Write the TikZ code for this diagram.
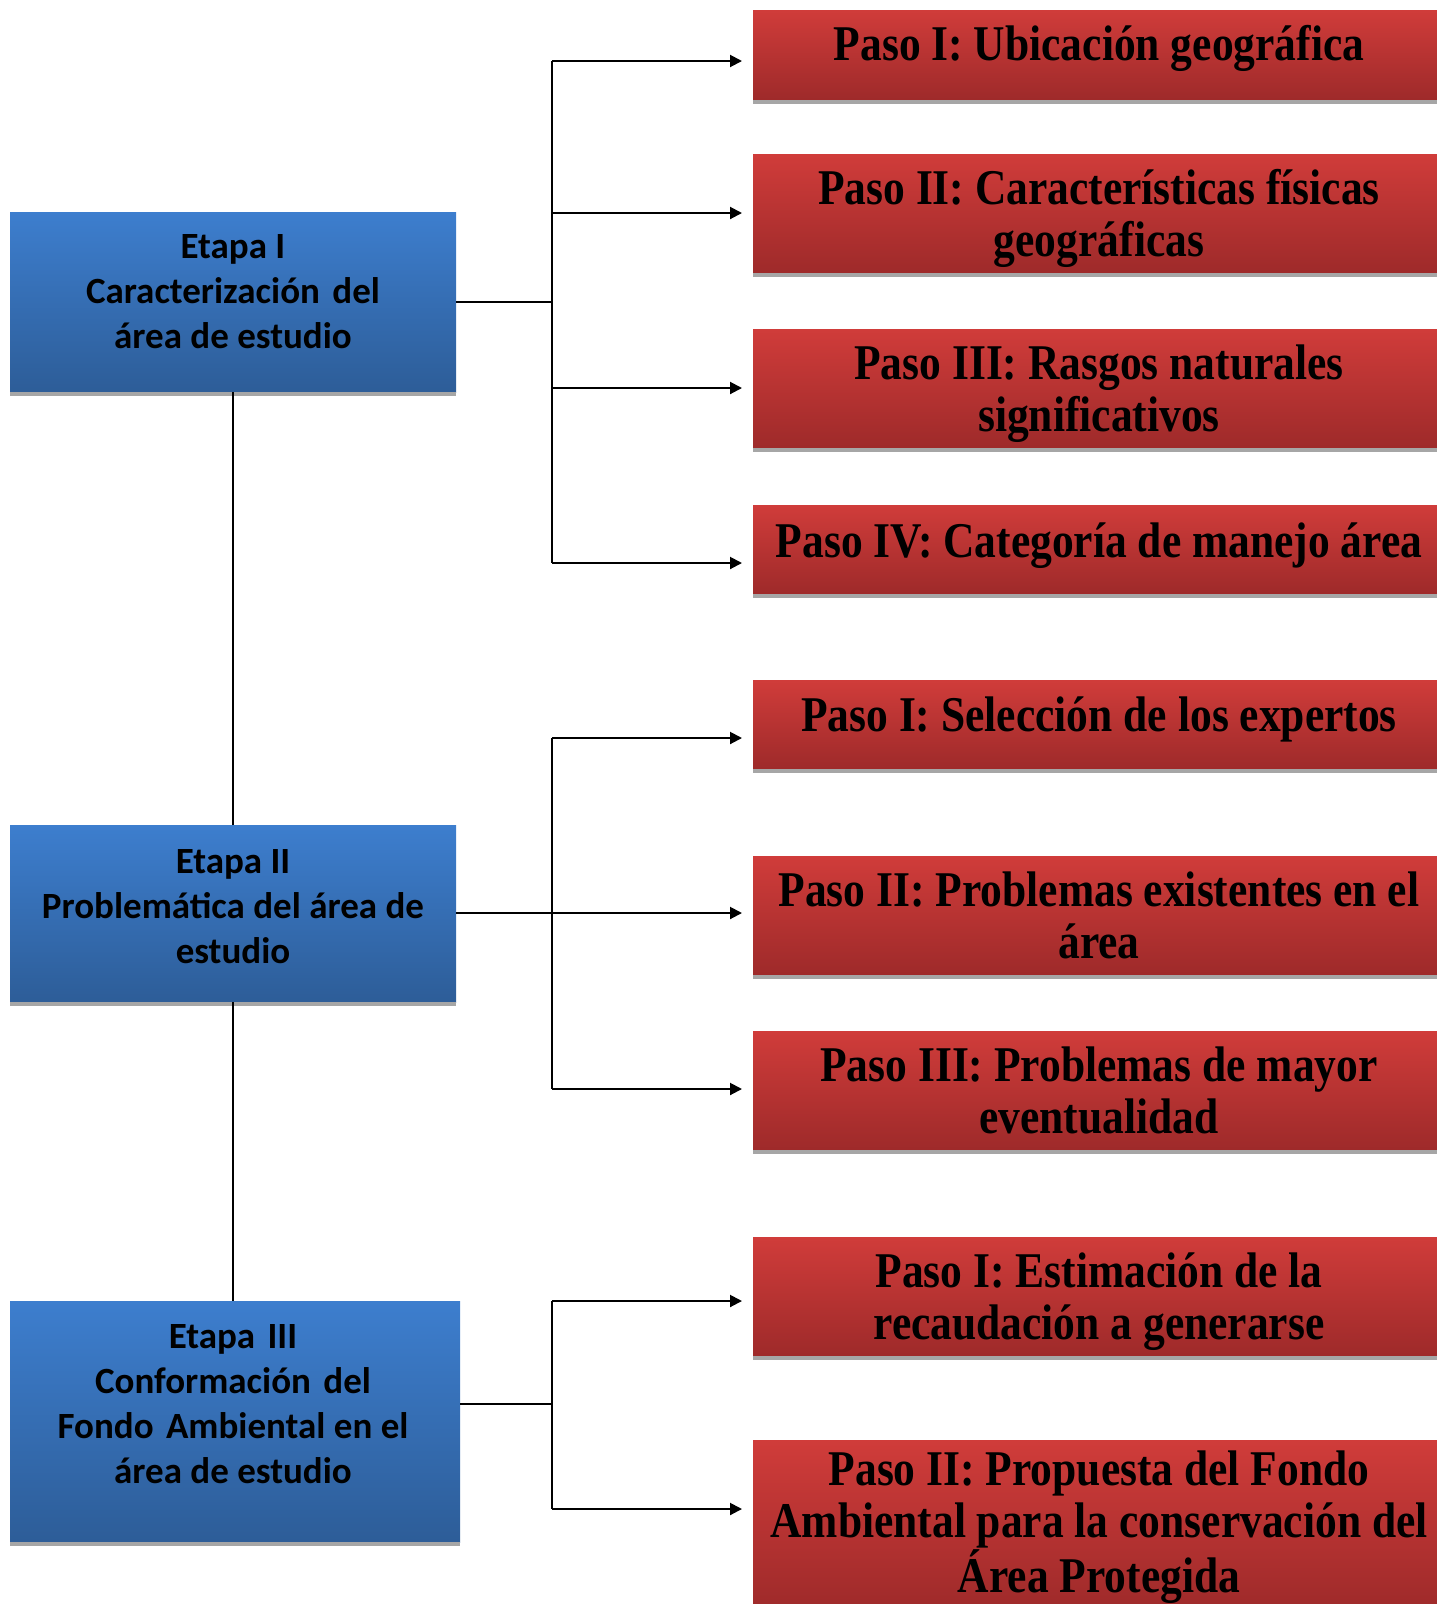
\documentclass[tikz,border=0pt]{standalone}
\usepackage{fontspec}
\usetikzlibrary{arrows.meta}
\newfontfamily\redfont{Liberation Serif}[FakeStretch=0.87]
\newfontfamily\bluefont{Carlito}
\definecolor{redtop}{RGB}{208,60,58}
\definecolor{redbot}{RGB}{158,42,42}
\definecolor{bluetop}{RGB}{61,126,206}
\definecolor{bluebot}{RGB}{45,93,152}
\definecolor{shadowgray}{RGB}{166,166,166}
\tikzset{
 redbox/.style={rectangle, draw=none, top color=redtop, bottom color=redbot, minimum width=684pt, inner sep=0pt, outer sep=0pt, anchor=north west},
 bluebox/.style={rectangle, draw=none, top color=bluetop, bottom color=bluebot, inner sep=0pt, outer sep=0pt, anchor=north west},
 redtext/.style={font=\redfont\bfseries\fontsize{50}{52}\selectfont, align=center, anchor=base, inner sep=0pt},
 bluetext/.style={font=\bluefont\bfseries\fontsize{37}{45}\selectfont, align=center, anchor=base, inner sep=0pt},
 conn/.style={line width=2pt, black},
 arr/.style={conn, -{Triangle[length=12pt,width=12pt]}},
}
\newcommand{\boxshadow}[1]{\fill[shadowgray] (#1.south west) rectangle ([yshift=-4pt]#1.south east);}
\newcommand{\wsp}{\hspace{4pt} }
\begin{document}
\begin{tikzpicture}[x=1pt,y=-1pt]
\useasboundingbox (0,0) rectangle (1437,1604);
% red boxes
\node[redbox, minimum height=90pt] (r1) at (753,10) {};
\node[redbox, minimum height=119pt] (r2) at (753,154) {};
\node[redbox, minimum height=119pt] (r3) at (753,329) {};
\node[redbox, minimum height=89pt] (r4) at (753,505) {};
\node[redbox, minimum height=89pt] (r5) at (753,680) {};
\node[redbox, minimum height=119pt] (r6) at (753,856) {};
\node[redbox, minimum height=119pt] (r7) at (753,1031) {};
\node[redbox, minimum height=119pt] (r8) at (753,1237) {};
\node[redbox, minimum height=170pt] (r9) at (753,1440) {};
\foreach \r in {r1,r2,r3,r4,r5,r6,r7,r8} {\boxshadow{\r}}
% blue boxes
\node[bluebox, minimum width=446pt, minimum height=180pt] (b1) at (10,212) {};
\node[bluebox, minimum width=446pt, minimum height=177pt] (b2) at (10,825) {};
\node[bluebox, minimum width=450pt, minimum height=241pt] (b3) at (10,1301) {};
\foreach \b in {b1,b2,b3} {\boxshadow{\b}}
% red texts (anchor = baseline of last line)
\node[redtext] (t1) at (1099,60) {Paso I: Ubicación geográfica};
\node[redtext] (t2) at (1099,256) {Paso II: Características físicas\\geográficas};
\node[redtext] (t3) at (1099,431) {Paso III: Rasgos naturales\\significativos};
\node[redtext] (t4) at (1099,557) {Paso IV: Categoría de manejo área};
\node[redtext] (t5) at (1099,731) {Paso I: Selección de los expertos};
\node[redtext] (t6) at (1099,958) {Paso II: Problemas existentes en el\\área};
\node[redtext] (t7) at (1099,1133) {Paso III: Problemas de mayor\\eventualidad};
\node[redtext] (t8) at (1099,1339) {Paso I: Estimación de la\\recaudación a generarse};
\node[redtext] (t9) at (1099,1592) {Paso II: Propuesta del Fondo\\Ambiental para la conservación del\\Área Protegida};
% blue texts (anchor = baseline of last line)
\node[bluetext] (s1) at (233,348) {Etapa I\\Caracterización\wsp del\\área de estudio};
\node[bluetext] (s2) at (233,963) {Etapa II\\Problemática del área de\\estudio};
\node[bluetext] (s3) at (233,1483) {Etapa\wsp III\\Conformación\wsp del\\Fondo\wsp Ambiental en el\\área de estudio};
% connectors between stages
\draw[conn] (b1.south) -- (b2.north);
\draw[conn] (b2.south) -- (b2.south |- b3.north);
% group 1
\coordinate (g1top) at (552,61);
\coordinate (g1bot) at (552,563);
\coordinate (p11) at (742,61);
\coordinate (p12) at (742,213);
\coordinate (p13) at (742,388);
\coordinate (p14) at (742,563);
\draw[conn] (b1.east) -- (b1.east -| g1top);
\draw[conn] (g1top) -- (g1bot);
\foreach \p in {p11,p12,p13,p14} {\draw[arr] (\p -| g1top) -- (\p);}
% group 2
\coordinate (g2top) at (552,738);
\coordinate (g2bot) at (552,1089);
\coordinate (p21) at (742,738);
\coordinate (p22) at (742,913);
\coordinate (p23) at (742,1089);
\draw[conn] (g2top) -- (g2bot);
\draw[arr] (b2.east |- p22) -- (p22);
\draw[arr] (g2top) -- (p21);
\draw[arr] (g2bot) -- (p23);
% group 3
\coordinate (g3top) at (552,1301);
\coordinate (g3bot) at (552,1509);
\coordinate (g3mid) at (552,1404);
\coordinate (p31) at (742,1301);
\coordinate (p32) at (742,1509);
\draw[conn] (g3top) -- (g3bot);
\draw[conn] (b3.east |- g3mid) -- (g3mid);
\draw[arr] (g3top) -- (p31);
\draw[arr] (g3bot) -- (p32);
\end{tikzpicture}
\end{document}
